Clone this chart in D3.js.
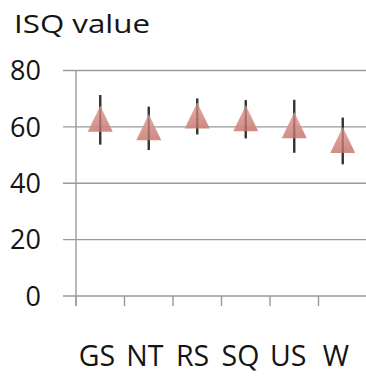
<!DOCTYPE html>
<html>
<head>
<meta charset="utf-8">
<script src="https://cdn.jsdelivr.net/npm/d3@7"></script>
<style>
  body { margin: 0; background: #fff; }
  text { font-family: "Open Sans", sans-serif; fill: #141414; }
</style>
</head>
<body>
<div id="chart"></div>
<script>
width = 366;
height = 376;

// chart values
var categories = ["GS", "NT", "RS", "SQ", "US", "W"];
var means = [62.5, 59.5, 63.7, 62.7, 60.2, 55.0];
var errors = [8.8, 7.7, 6.4, 6.8, 9.4, 8.3];
var yTicks = [0, 20, 40, 60, 80];
var title = "ISQ value";

var svg = d3.select("#chart")
    .append("svg")
    .attr("width", width)
    .attr("height", height);

var defs = svg.append("defs");

var grad = defs.append("linearGradient")
    .attr("id", "tri")
    .attr("x1", 0).attr("y1", 0).attr("x2", 0.3).attr("y2", 1);
grad.append("stop").attr("offset", "0%").attr("stop-color", "#e8aaa2");
grad.append("stop").attr("offset", "100%").attr("stop-color", "#cc837b");

var blur = defs.append("filter")
    .attr("id", "soft")
    .attr("x", "-30%").attr("y", "-30%").attr("width", "160%").attr("height", "160%");
blur.append("feGaussianBlur").attr("stdDeviation", 0.5);

var shadow = defs.append("filter")
    .attr("id", "shadow")
    .attr("x", "-50%").attr("y", "-200%").attr("width", "200%").attr("height", "500%");
shadow.append("feGaussianBlur").attr("stdDeviation", 1.2);

// scales
var x = d3.scaleBand().domain(categories).range([76, 367]);
var xLabel = d3.scalePoint().domain(categories).range([97, 336]);
var y = d3.scaleLinear().domain([0, 80]).range([296, 70.5]);

// title
svg.append("text")
    .attr("x", 14)
    .attr("y", 33)
    .attr("font-size", 25)
    .attr("textLength", 136)
    .attr("lengthAdjust", "spacingAndGlyphs")
    .text(title);

// gridlines
svg.selectAll(".grid")
    .data(yTicks)
    .enter()
    .append("line")
    .attr("class", "grid")
    .attr("x1", 63)
    .attr("x2", width)
    .attr("y1", d => y(d))
    .attr("y2", d => y(d))
    .style("stroke", "#9a9a9a")
    .style("stroke-width", 1.4);

// y axis line
svg.append("line")
    .attr("x1", x.range()[0])
    .attr("x2", x.range()[0])
    .attr("y1", y(80))
    .attr("y2", y(0) + 10)
    .style("stroke", "#9a9a9a")
    .style("stroke-width", 1.4);

// x ticks
var xTickPos = categories.map(c => x(c)).concat([x.range()[1]]);
svg.selectAll(".xtick")
    .data(xTickPos)
    .enter()
    .append("line")
    .attr("class", "xtick")
    .attr("x1", d => d)
    .attr("x2", d => d)
    .attr("y1", y(0))
    .attr("y2", y(0) + 10)
    .style("stroke", "#9a9a9a")
    .style("stroke-width", 1.4);

// y labels
svg.selectAll(".ylab")
    .data(yTicks)
    .enter()
    .append("text")
    .attr("class", "ylab")
    .attr("x", 41)
    .attr("y", d => y(d))
    .attr("dy", "0.36em")
    .attr("text-anchor", "end")
    .attr("font-size", 27)
    .text(d => d);

// x labels
svg.selectAll(".xlab")
    .data(categories)
    .enter()
    .append("text")
    .attr("class", "xlab")
    .attr("x", d => xLabel(d))
    .attr("y", 366)
    .attr("text-anchor", "middle")
    .attr("font-size", 28.5)
    .text(d => d);

var cx = d => x(d) + x.bandwidth() / 2;

// shadows under the markers
svg.selectAll(".shade")
    .data(categories)
    .enter()
    .append("line")
    .attr("class", "shade")
    .attr("x1", (d) => cx(d) - 12)
    .attr("x2", (d) => cx(d) + 12)
    .attr("y1", (d, i) => y(means[i]) + 14)
    .attr("y2", (d, i) => y(means[i]) + 14)
    .attr("filter", "url(#shadow)")
    .style("stroke", "#7a6a6a")
    .style("stroke-width", 2);

// error bars
svg.selectAll(".err")
    .data(categories)
    .enter()
    .append("line")
    .attr("class", "err")
    .attr("x1", d => cx(d))
    .attr("x2", d => cx(d))
    .attr("y1", (d, i) => y(means[i] + errors[i]))
    .attr("y2", (d, i) => y(means[i] - errors[i]))
    .style("stroke", "#2e3530")
    .style("stroke-width", 2.4);

// triangle markers
svg.selectAll(".marker")
    .data(categories)
    .enter()
    .append("path")
    .attr("class", "marker")
    .attr("d", (d, i) => {
        var px = cx(d), py = y(means[i]);
        return "M" + px + "," + (py - 14) + "L" + (px + 12.5) + "," + (py + 12) + "L" + (px - 12.5) + "," + (py + 12) + "Z";
    })
    .attr("filter", "url(#soft)")
    .style("fill", "url(#tri)")
    .style("fill-opacity", 0.92);

// faint bar showing through the marker
svg.selectAll(".errIn")
    .data(categories)
    .enter()
    .append("line")
    .attr("class", "errIn")
    .attr("x1", d => cx(d))
    .attr("x2", d => cx(d))
    .attr("y1", (d, i) => y(means[i]) - 12)
    .attr("y2", (d, i) => y(means[i]) + 12)
    .style("stroke", "#4a3434")
    .style("stroke-opacity", 0.3)
    .style("stroke-width", 2);
</script>
</body>
</html>
